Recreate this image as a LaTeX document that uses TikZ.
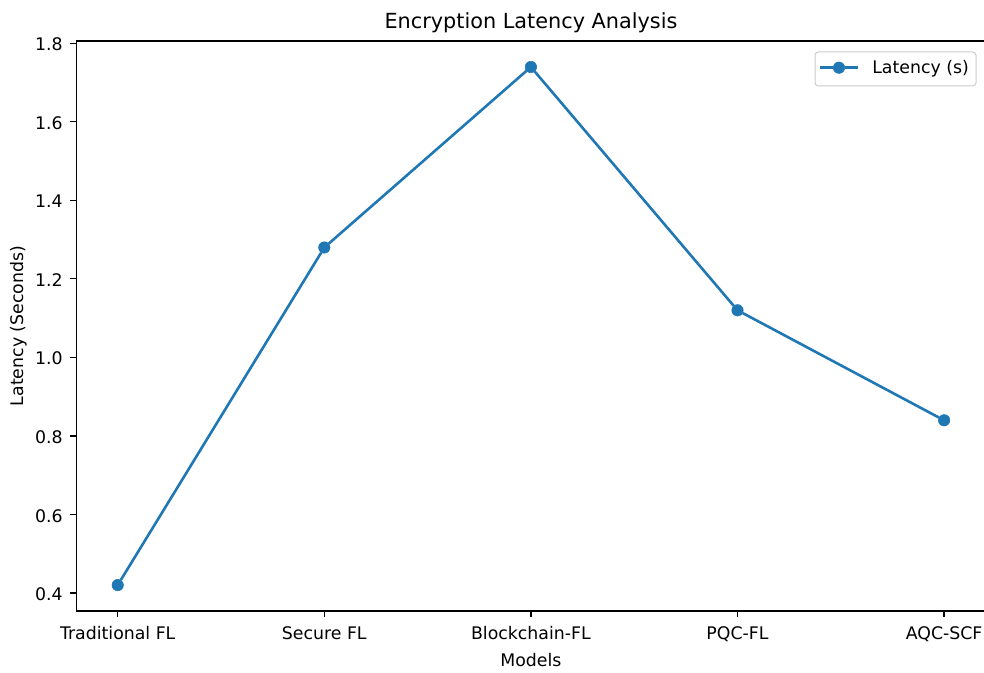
\documentclass[tikz,border=0pt]{standalone}
\usepackage{fontspec}
\setmainfont{DejaVu Sans}
\usepackage{tikz}
\usetikzlibrary{positioning,calc}
\definecolor{mplblue}{HTML}{1F77B4}
\definecolor{legendedge}{gray}{0.8}

\begin{document}
\begin{tikzpicture}[x=0.75pt, y=-0.75pt]
    \tikzset{point/.style = {shape=circle, fill=mplblue, draw=mplblue, minimum size=8.6pt, inner sep=0pt}}
    \tikzset{curve/.style = {-, color=mplblue, line width=1.95pt}}
    \tikzset{tickmark/.style = {-, line width=1pt}}
    \tikzset{ticklabel/.style = {inner sep=0pt, font=\fontsize{13}{15}\selectfont}}
    \tikzset{titlelabel/.style = {inner sep=0pt, font=\fontsize{15.6}{18}\selectfont}}
    \useasboundingbox (0,0) rectangle (984,673);

    % axes frame
    \draw[line width=1pt] (76.4,41) rectangle (985.4,611);

    % y ticks
    \draw[tickmark] (76.4,593.0) -- ++(-6,0);
    \draw[tickmark] (76.4,514.5) -- ++(-6,0);
    \draw[tickmark] (76.4,435.9) -- ++(-6,0);
    \draw[tickmark] (76.4,357.4) -- ++(-6,0);
    \draw[tickmark] (76.4,278.8) -- ++(-6,0);
    \draw[tickmark] (76.4,200.3) -- ++(-6,0);
    \draw[tickmark] (76.4,121.7) -- ++(-6,0);
    \draw[tickmark] (76.4,43.2) -- ++(-6,0);
    \node[ticklabel, anchor=base east] (y04) at (63,600.5) {0.4};
    \node[ticklabel, anchor=base east] (y06) at (63,522.0) {0.6};
    \node[ticklabel, anchor=base east] (y08) at (63,443.4) {0.8};
    \node[ticklabel, anchor=base east] (y10) at (63,364.9) {1.0};
    \node[ticklabel, anchor=base east] (y12) at (63,286.3) {1.2};
    \node[ticklabel, anchor=base east] (y14) at (63,207.8) {1.4};
    \node[ticklabel, anchor=base east] (y16) at (63,129.2) {1.6};
    \node[ticklabel, anchor=base east] (y18) at (63,50.7) {1.8};

    % x ticks
    \draw[tickmark] (117.7,611) -- ++(0,6);
    \draw[tickmark] (324.3,611) -- ++(0,6);
    \draw[tickmark] (530.9,611) -- ++(0,6);
    \draw[tickmark] (737.5,611) -- ++(0,6);
    \draw[tickmark] (944.1,611) -- ++(0,6);
    \node[ticklabel, anchor=base] (xTF) at (117.7,639) {Traditional FL};
    \node[ticklabel, anchor=base] (xSF) at (324.3,639) {Secure FL};
    \node[ticklabel, anchor=base] (xBF) at (530.9,639) {Blockchain-FL};
    \node[ticklabel, anchor=base] (xPF) at (737.5,639) {PQC-FL};
    \node[ticklabel, anchor=base] (xAS) at (944.1,639) {AQC-SCF};

    % labels and title
    \node[ticklabel, anchor=base] (xlab) at (530.9,666) {Models};
    \node[ticklabel, rotate=90] (ylab) at (18.5,326) {Latency (Seconds)};
    \node[titlelabel, anchor=base] (title) at (531,29) {Encryption Latency Analysis};

    % data
    \node[point] (TF) at (117.7,585.1) {};
    \node[point] (SF) at (324.3,247.5) {};
    \node[point] (BF) at (530.9,67.0) {};
    \node[point] (PF) at (737.5,310.3) {};
    \node[point] (AS) at (944.1,420.3) {};
    \draw[curve] (TF) -- (SF) -- (BF) -- (PF) -- (AS);

    % legend
    \draw[draw=legendedge, fill=white, line width=0.75pt, rounded corners=2.5pt] (815,52) rectangle (976,86);
    \coordinate (legA) at (820,67.7);
    \coordinate (legB) at (858,67.7);
    \node[point] (legdot) at (839,67.7) {};
    \draw[curve] (legA) -- (legdot) -- (legB);
    \node[ticklabel, anchor=base west] (legtext) at (872,73.5) {Latency (s)};
\end{tikzpicture}
\end{document}
